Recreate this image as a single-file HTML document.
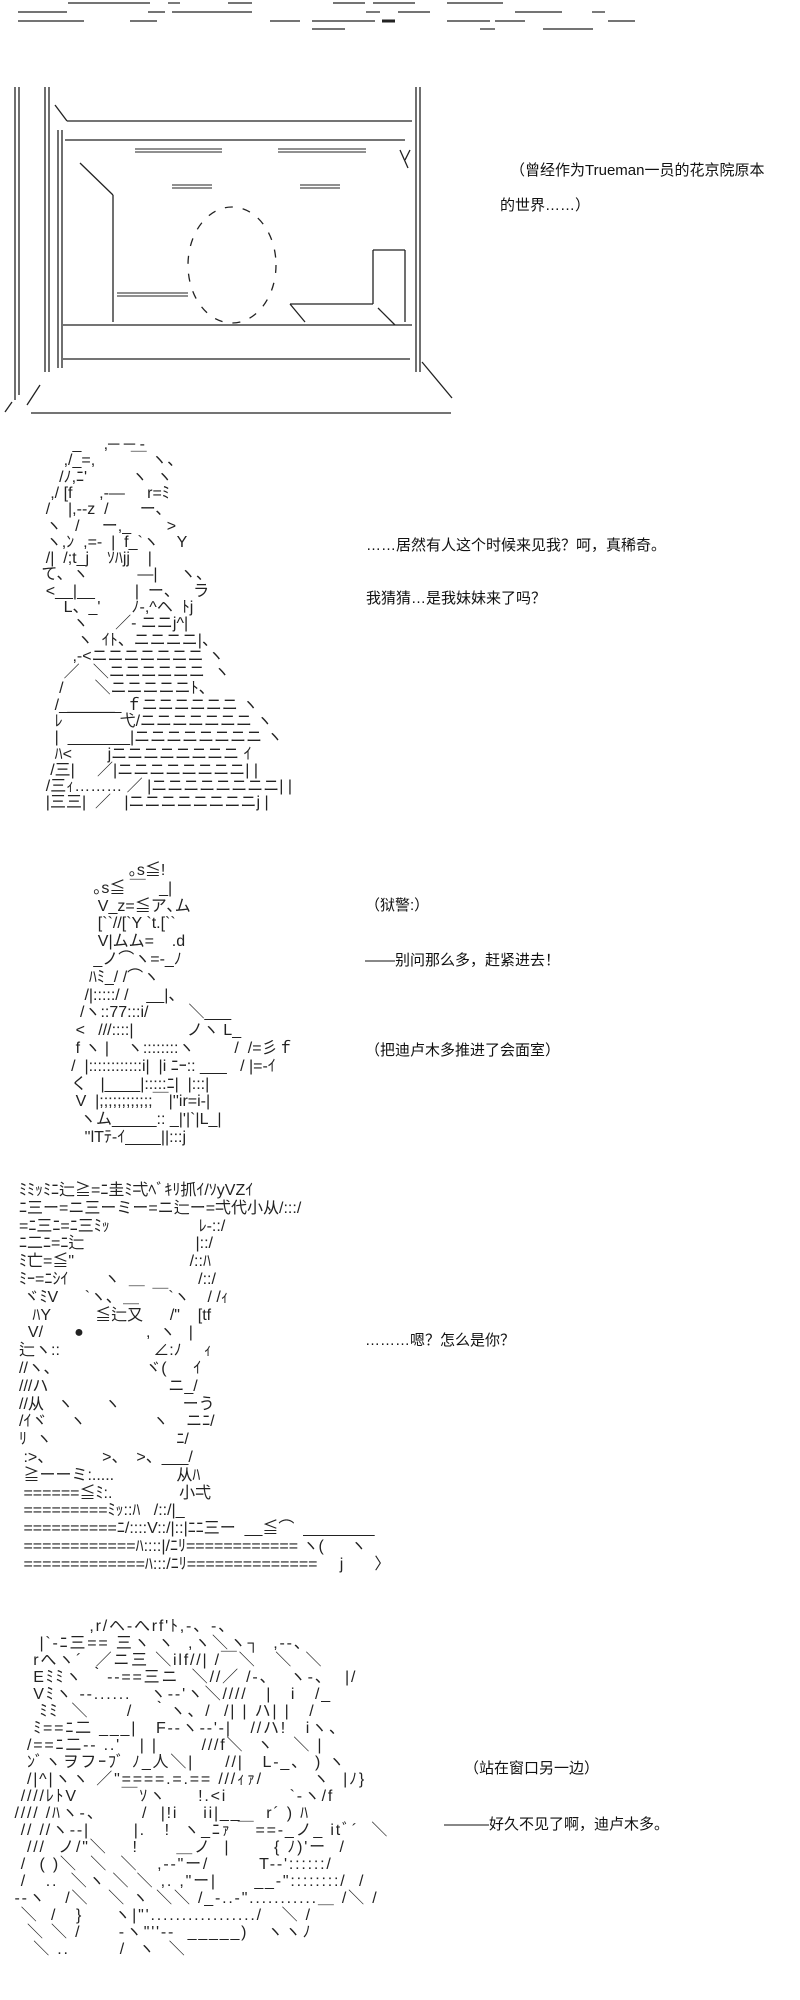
<!DOCTYPE html>
<html><head><meta charset="utf-8">
<style>
html,body{margin:0;padding:0;background:#fff;width:800px;height:2000px;overflow:hidden;}
#w{position:relative;width:800px;height:2000px;overflow:hidden;}
svg{position:absolute;left:0;top:0;}
.d{font-family:"Liberation Sans","Noto Sans CJK SC",sans-serif;font-size:15px;fill:#111;}
.f{position:absolute;top:-1px;}
.f div{position:absolute;left:0;white-space:pre;font-family:"Liberation Sans","Noto Sans CJK JP",sans-serif;font-size:16px;line-height:16px;height:16px;color:#222;}
.f.w div{letter-spacing:1.8px;}
</style></head><body>
<div id="w">
<svg width="800" height="2000" viewBox="0 0 800 2000">
<g stroke="#222" stroke-width="1.3" fill="none">
<g stroke-width="1.2">
<line x1="68" y1="3" x2="150" y2="3"/><line x1="168" y1="3" x2="180" y2="3"/><line x1="228" y1="3" x2="252" y2="3"/><line x1="333" y1="3" x2="365" y2="3"/><line x1="373" y1="3" x2="415" y2="3"/><line x1="447" y1="3" x2="503" y2="3"/>
<line x1="18" y1="12" x2="67" y2="12"/><line x1="148" y1="12" x2="165" y2="12"/><line x1="172" y1="12" x2="252" y2="12"/><line x1="366" y1="12" x2="380" y2="12"/><line x1="398" y1="12" x2="430" y2="12"/><line x1="515" y1="12" x2="562" y2="12"/><line x1="592" y1="12" x2="605" y2="12"/>
<line x1="18" y1="21" x2="84" y2="21"/><line x1="130" y1="21" x2="157" y2="21"/><line x1="270" y1="21" x2="300" y2="21"/><line x1="312" y1="21" x2="375" y2="21"/><line x1="447" y1="21" x2="490" y2="21"/><line x1="495" y1="21" x2="525" y2="21"/><line x1="608" y1="21" x2="635" y2="21"/>
<line x1="312" y1="29" x2="345" y2="29"/><line x1="480" y1="29" x2="495" y2="29"/><line x1="543" y1="29" x2="593" y2="29"/>
<line x1="382" y1="21" x2="395" y2="21" stroke-width="3"/>
</g>
<line x1="15" y1="87" x2="15" y2="400"/><line x1="19" y1="87" x2="19" y2="395"/>
<line x1="45" y1="87" x2="45" y2="372"/><line x1="49" y1="87" x2="49" y2="372"/>
<line x1="58" y1="130" x2="58" y2="368"/><line x1="62" y1="130" x2="62" y2="368"/>
<line x1="40" y1="385" x2="27" y2="405"/><line x1="12" y1="402" x2="5" y2="412"/>
<line x1="55" y1="105" x2="67" y2="121"/>
<line x1="67" y1="121" x2="412" y2="121"/>
<line x1="65" y1="140" x2="405" y2="140"/>
<line x1="416" y1="87" x2="416" y2="372"/><line x1="420" y1="87" x2="420" y2="372"/>
<line x1="63" y1="325" x2="412" y2="325"/>
<line x1="63" y1="359" x2="410" y2="359"/>
<line x1="31" y1="413" x2="451" y2="413"/>
<line x1="422" y1="362" x2="452" y2="398"/>
<g stroke-width="1"><line x1="135" y1="149" x2="222" y2="149"/><line x1="135" y1="152" x2="222" y2="152"/>
<line x1="278" y1="149" x2="366" y2="149"/><line x1="278" y1="152" x2="366" y2="152"/>
<line x1="172" y1="185" x2="212" y2="185"/><line x1="172" y1="188" x2="212" y2="188"/>
<line x1="300" y1="185" x2="340" y2="185"/><line x1="300" y1="188" x2="340" y2="188"/>
<line x1="117" y1="293" x2="188" y2="293"/><line x1="117" y1="296" x2="188" y2="296"/></g>
<line x1="80" y1="163" x2="113" y2="195"/><line x1="113" y1="195" x2="113" y2="322"/>
<ellipse cx="232" cy="265" rx="44" ry="58" stroke-dasharray="8 10"/>
<line x1="373" y1="250" x2="405" y2="250"/><line x1="373" y1="250" x2="373" y2="304"/>
<line x1="290" y1="304" x2="373" y2="304"/><line x1="378" y1="308" x2="395" y2="325"/>
<line x1="290" y1="304" x2="305" y2="322"/><line x1="405" y1="250" x2="405" y2="322"/>
<line x1="410" y1="150" x2="405" y2="160"/><line x1="400" y1="150" x2="408" y2="168"/>
</g>
<text class="d" x="510" y="175">（曾经作为Trueman一员的花京院原本</text>
<text class="d" x="500" y="210">的世界……）</text>
<text class="d" x="366" y="550">……居然有人这个时候来见我？呵，真稀奇。</text>
<text class="d" x="366" y="603">我猜猜…是我妹妹来了吗？</text>
<text class="d" x="365" y="910">（狱警:）</text>
<text class="d" x="365" y="965">——别问那么多，赶紧进去！</text>
<text class="d" x="365" y="1055">（把迪卢木多推进了会面室）</text>
<text class="d" x="365" y="1345">………嗯？怎么是你？</text>
<text class="d" x="464" y="1773">（站在窗口另一边）</text>
<text class="d" x="444" y="1829">———好久不见了啊，迪卢木多。</text>
</svg>

<div class="f" style="left:28px">
<div style="top:438px">          _     ,─ ─ -</div>
<div style="top:454px">        ,/_=,        ￣ ヽ、</div>
<div style="top:471px">       /ﾉ,ﾆ'          ヽ  ヽ</div>
<div style="top:487px">     ,/ [f      ,-―     r=ﾐ</div>
<div style="top:503px">    /    |,--z  /       ー､</div>
<div style="top:520px">    ヽ   /     ー,_        &gt;</div>
<div style="top:536px">    ヽ,ﾝ  ,=-  |  f_`ヽ    Y</div>
<div style="top:552px">    /|  /;t_j    ｿﾊjj    |</div>
<div style="top:568px">   て、ヽ           ―|     ヽ、</div>
<div style="top:585px">    &lt;__|__         |  ー、   ラ</div>
<div style="top:601px">        L、_'       ﾉ-,^ヘ  ﾄj</div>
<div style="top:617px">          ヽ      ／- ニニj^|</div>
<div style="top:634px">           ヽ  ｲﾄ、ニニニニ|、</div>
<div style="top:650px">          ,-&lt;ニニニニニニニ ヽ</div>
<div style="top:666px">        ／   ＼ニニニニニニ  ヽ</div>
<div style="top:682px">       /       ＼ニニニニニﾄ、</div>
<div style="top:699px">      /_______ ｆニニニニニニ ヽ</div>
<div style="top:715px">      ﾚ ￣￣￣ 弋/ニニニニニニニ ヽ</div>
<div style="top:731px">      |  _______|ニニニニニニニニ ヽ</div>
<div style="top:748px">      ﾊ&lt;        jニニニニニニニニ ｲ</div>
<div style="top:764px">     /三|     ／|ニニニニニニニニ| |</div>
<div style="top:780px">    /三ｨ……… ／ |ニニニニニニニニ| |</div>
<div style="top:796px">    |三三|  ／   |ニニニニニニニニj |</div>
</div>

<div class="f" style="left:40px">
<div style="top:864px">                    ｡s≦!</div>
<div style="top:882px">            ｡s≦ ￣   _|</div>
<div style="top:900px">             V_z=≦ア､ム</div>
<div style="top:917px">             [``//[`Y `t.[``</div>
<div style="top:935px">             V|ムム=    .d</div>
<div style="top:953px">            _ノ⌒ヽ=-_ﾉ</div>
<div style="top:971px">           ﾊﾐ_/ /⌒ヽ</div>
<div style="top:989px">          /|:::::/ /    __|、</div>
<div style="top:1006px">         /ヽ::77:::i/         ＼___</div>
<div style="top:1024px">        &lt;   ///::::|            ノヽ L_</div>
<div style="top:1042px">        f ヽ |    ヽ::::::::ヽ         /  /=彡ｆ</div>
<div style="top:1060px">       /  |::::::::::::i|  |i ﾆｰ:: ___   / |=-ｲ</div>
<div style="top:1078px">       く   |____|:::::ﾆ|  |:::|</div>
<div style="top:1095px">        V  |;;;;;;;;;;;;￣|''ir=i-|</div>
<div style="top:1113px">         ヽム_____:: _|'|`|L_|</div>
<div style="top:1131px">          ''lTﾃ-ｲ____||:::j</div>
</div>

<div class="f" style="left:19px">
<div style="top:1184px">ﾐﾐｯﾐﾆ辷≧=ﾆ圭ﾐ弌ﾍﾞｷﾘ抓ｲ/ｿyVZｲ</div>
<div style="top:1202px">ﾆ三ー=ニ三ーミー=ニ辷ー=弌代小从/:::/</div>
<div style="top:1220px">=ﾆ三ﾆ=ﾆ三ﾐｯ                    ﾚ-::/</div>
<div style="top:1237px">ﾆ二ﾆ=ﾆ辷                         |::/</div>
<div style="top:1255px">ﾐ亡=≦"                          /::ﾊ</div>
<div style="top:1273px">ﾐｰ=ﾆｼｲ        ヽ  ＿            /::/</div>
<div style="top:1291px"> ヾﾐV      `ヽ､  ＿   ￣`ヽ    / /ｨ</div>
<div style="top:1309px">   ﾊY          ≦辷又      /"    [tf</div>
<div style="top:1326px">  V/       ●              ,  ヽ   |</div>
<div style="top:1344px">辷ヽ::                     ∠:ﾉ     ｨ</div>
<div style="top:1362px">//ヽ､                     ヾ(      ｲ</div>
<div style="top:1380px">///ハ                           ニ_/</div>
<div style="top:1398px">//从   ヽ       ヽ              ーう</div>
<div style="top:1415px">/ｲヾ     ヽ               ヽ    ニﾆ/</div>
<div style="top:1433px">ﾘ  ヽ                            ﾆ/</div>
<div style="top:1451px"> :&gt;、           &gt;、  &gt;、___/</div>
<div style="top:1469px"> ≧ーーミ:.....              从ﾊ</div>
<div style="top:1487px"> ======≦ﾐ:.               小弌</div>
<div style="top:1504px"> =========ﾐｯ::ﾊ   /::/|_</div>
<div style="top:1522px"> ==========ﾆ/::::V::/|::|ﾆﾆ三ー  __≦⌒  ________</div>
<div style="top:1540px"> ============ﾊ::::|/ﾆﾘ============ ヽ(      ヽ</div>
<div style="top:1558px"> =============ﾊ:::/ﾆﾘ==============     j       〉</div>
</div>

<div class="f w" style="left:2px">
<div style="top:1620px">              ,r/ヘ-へrf'ﾄ,-、-、</div>
<div style="top:1637px">      |`-ﾆ三== 三ヽ ヽ  ,ヽ＼ヽ┐  ,-‐、</div>
<div style="top:1654px">     rへヽ´  ／ニ三 ＼ilf//| /￣＼   ＼  ＼</div>
<div style="top:1671px">     Eﾐﾐヽ ｀--==三ニ  ＼//／ /-、  ヽ-、  |/</div>
<div style="top:1688px">     Vﾐヽ --......   ヽ--'ヽ＼////   |   i   /_</div>
<div style="top:1705px">      ﾐﾐ  ＼      /   ｀ヽ、/  /| | ハ| |   /</div>
<div style="top:1722px">     ﾐ==ﾆ二 ___|   F--ヽ--'-|   //ハ!   iヽ、</div>
<div style="top:1739px">    /==ﾆ二-- ..'   | |       ///f＼  ヽ   ＼ |</div>
<div style="top:1756px">    ﾝﾞヽヲフｰﾌﾞ ﾉ_人＼|     //|   L-_、 ) ヽ</div>
<div style="top:1773px">    /|^|ヽヽ ／"====.=.== ///ｨｧ/        ヽ  |ﾉ}</div>
<div style="top:1790px">   ////ﾚﾄV       ￣ｿヽ     !.&lt;i          `-ヽ/f</div>
<div style="top:1807px">  //// /ﾊヽ-、      /  |!i    ii|__    r´ ) ﾊ</div>
<div style="top:1824px">   // //ヽ--|       |.   !  ヽ_ﾆｧ ￣==-_ノ_ itﾞ´  ＼</div>
<div style="top:1841px">    ///  ノ/"＼    !      ＿ノ  |       { ﾉ)'ー  /</div>
<div style="top:1858px">   /  ( )＼  ＼  ＼   ,-‐"ー/        T--'::::::/</div>
<div style="top:1875px">   /   ..  ＼ヽ ＼ ＼ ,. ,"ー|      __-"::::::::/  /</div>
<div style="top:1892px">  --ヽ   /＼   ＼ ヽ ＼＼ /_-..-"...........＿ /＼ /</div>
<div style="top:1909px">   ＼  /   }     ヽ|"'................./   ＼ /</div>
<div style="top:1926px">    ＼ ＼ /      ‐ヽ"''--  _____)   ヽヽﾉ</div>
<div style="top:1943px">     ＼ ..        /  ヽ  ＼</div>
</div>
</div>
</body></html>
